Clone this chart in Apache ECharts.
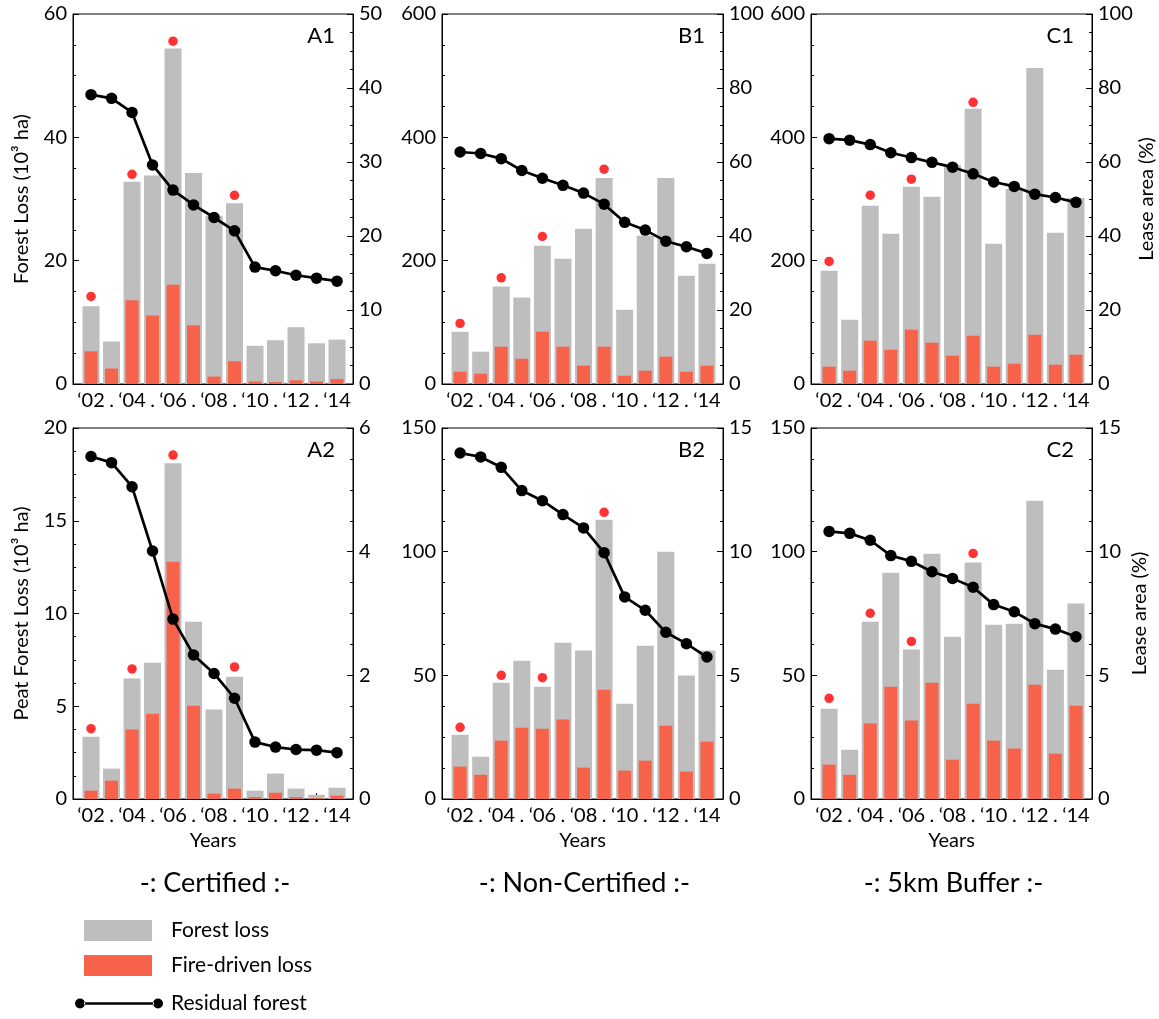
<!DOCTYPE html>
<html><head><meta charset="utf-8">
<script src="https://cdn.jsdelivr.net/npm/echarts@6/dist/echarts.min.js"></script>
<style>html,body{margin:0;padding:0;background:#fff}#c{width:1159px;height:1019px}</style>
</head><body><div id="c"></div>
<script>
// ---- data ----
const years = [2002, 2003, 2004, 2005, 2006, 2007, 2008, 2009, 2010, 2011, 2012, 2013, 2014];
const yearLabels = ["‘02", ".", "‘04", ".", "‘06", ".", "‘08", ".", "‘10", ".", "‘12", ".", "‘14"];
const dotYears = [2002, 2004, 2006, 2009];

const a1Loss = [12.6, 6.9, 32.8, 33.8, 54.4, 34.2, 27.3, 29.3, 6.2, 7.1, 9.2, 6.6, 7.2];
const a1Fire = [5.3, 2.5, 13.6, 11.1, 16.1, 9.5, 1.2, 3.7, 0.4, 0.3, 0.6, 0.4, 0.8];
const a1Resid = [39.1, 38.6, 36.7, 29.6, 26.2, 24.2, 22.5, 20.7, 15.8, 15.3, 14.7, 14.3, 13.9];
const a1Dots = [14.2, 34.0, 55.6, 30.6];

const b1Loss = [84.8, 52.4, 158.2, 140.4, 224.1, 203.0, 251.6, 334.2, 120.4, 240.3, 334.2, 175.5, 194.9];
const b1Fire = [20.0, 16.7, 60.5, 41.0, 84.8, 60.5, 29.7, 60.5, 13.5, 21.6, 44.3, 20.0, 29.7];
const b1Resid = [62.7, 62.3, 60.9, 57.7, 55.6, 53.7, 51.6, 48.6, 43.7, 41.6, 38.6, 37.1, 35.3];
const b1Dots = [98.3, 172.2, 239.2, 348.3];

const c1Loss = [183.6, 104.2, 288.9, 243.5, 319.7, 303.5, 355.3, 446.5, 227.3, 316.4, 512.4, 245.1, 301.8];
const c1Fire = [28.1, 21.6, 70.2, 55.6, 88.0, 67.0, 45.9, 78.3, 28.1, 32.9, 79.9, 31.3, 47.5];
const c1Resid = [66.3, 65.9, 64.7, 62.5, 61.2, 59.9, 58.6, 56.8, 54.6, 53.4, 51.3, 50.4, 49.1];
const c1Dots = [198.7, 306.2, 332.1, 456.8];

const a2Loss = [3.36, 1.64, 6.49, 7.35, 18.1, 9.56, 4.82, 6.59, 0.45, 1.37, 0.56, 0.23, 0.61];
const a2Fire = [0.45, 0.99, 3.74, 4.60, 12.79, 5.03, 0.29, 0.56, 0.1, 0.34, 0.1, 0.05, 0.18];
const a2Resid = [5.54, 5.44, 5.05, 4.01, 2.91, 2.33, 2.03, 1.63, 0.92, 0.84, 0.80, 0.79, 0.75];
const a2Dots = [3.79, 7.01, 18.54, 7.12];

const b2Loss = [26.0, 17.1, 47.0, 55.9, 45.4, 63.2, 60.0, 112.9, 38.5, 62.0, 100.0, 49.9, 60.0];
const b2Fire = [13.1, 9.8, 23.6, 28.8, 28.4, 32.1, 12.7, 44.2, 11.5, 15.5, 29.6, 11.1, 23.2];
const b2Resid = [13.99, 13.83, 13.41, 12.47, 12.06, 11.50, 10.96, 9.96, 8.17, 7.63, 6.74, 6.28, 5.74];
const b2Dots = [28.98, 50.0, 49.06, 115.9];

const c2Loss = [36.5, 19.9, 71.7, 91.5, 60.4, 99.2, 65.6, 95.6, 70.5, 70.9, 120.6, 52.3, 79.0];
const c2Fire = [13.9, 9.8, 30.5, 45.4, 31.7, 47.0, 15.9, 38.5, 23.6, 20.4, 46.2, 18.3, 37.7];
const c2Resid = [10.82, 10.74, 10.46, 9.84, 9.61, 9.19, 8.92, 8.56, 7.86, 7.57, 7.09, 6.87, 6.56];
const c2Dots = [40.7, 75.1, 63.7, 99.3];

const groupTitles = ["-: Certified :-", "-: Non-Certified :-", "-: 5km Buffer :-"];
const panelLabels = ["A1", "B1", "C1", "A2", "B2", "C2"];
const legendNames = ["Forest loss", "Fire-driven loss", "Residual forest"];
const leftAxisNames = ["Forest Loss (10³ ha)", "Peat Forest Loss (10³ ha)"];
const rightAxisName = "Lease area (%)";
const xAxisName = "Years";

// ---- layout / style ----
const FONT = 'Lato';
const GREY = '#bebebe', FIRE = '#f7634a', DOT = '#ff0000';
const colLeft = [73, 442, 811], colWidth = [280, 281, 281];
const rowTop = [14, 428], rowHeight = [370, 371];
const XMIN = 2001.12, XMAX = 2014.78;

const panels = [
  {loss: a1Loss, fire: a1Fire, resid: a1Resid, dots: a1Dots, lmax: 60, lint: 20, rmax: 50, rint: 10},
  {loss: b1Loss, fire: b1Fire, resid: b1Resid, dots: b1Dots, lmax: 600, lint: 200, rmax: 100, rint: 20},
  {loss: c1Loss, fire: c1Fire, resid: c1Resid, dots: c1Dots, lmax: 600, lint: 200, rmax: 100, rint: 20},
  {loss: a2Loss, fire: a2Fire, resid: a2Resid, dots: a2Dots, lmax: 20, lint: 5, rmax: 6, rint: 2},
  {loss: b2Loss, fire: b2Fire, resid: b2Resid, dots: b2Dots, lmax: 150, lint: 50, rmax: 15, rint: 5},
  {loss: c2Loss, fire: c2Fire, resid: c2Resid, dots: c2Dots, lmax: 150, lint: 50, rmax: 15, rint: 5}
];

const grid = [], xAxis = [], yAxis = [], series = [], graphic = [];
const labelStyle = {color: '#000', fontFamily: FONT, fontSize: 20};

panels.forEach((p, i) => {
  const row = Math.floor(i / 3), col = i % 3;
  grid.push({left: colLeft[col], top: rowTop[row], width: colWidth[col], height: rowHeight[row],
    show: true, borderColor: '#000', borderWidth: 1, backgroundColor: 'transparent'});
  const xBase = {
    type: 'value', gridIndex: i, min: XMIN, max: XMAX, splitLine: {show: false},
    axisLine: {show: true, onZero: false, lineStyle: {color: '#000', width: 1}}
  };
  xAxis.push(Object.assign({}, xBase, {
    axisTick: {show: true, inside: true, length: 6, customValues: years, lineStyle: {color: '#000', width: 1}},
    axisLabel: Object.assign({}, labelStyle, {margin: 7, customValues: years,
      formatter: v => { const k = years.indexOf(Math.round(v)); return k >= 0 ? yearLabels[k] : ''; }}),
    name: row === 1 ? xAxisName : '', nameLocation: 'middle', nameGap: 32,
    nameTextStyle: {color: '#000', fontFamily: FONT, fontSize: 20}
  }));
  xAxis.push(Object.assign({}, xBase, {show: false}));
  const yBase = {
    type: 'value', gridIndex: i, min: 0, splitLine: {show: false},
    axisLine: {show: true, lineStyle: {color: '#000', width: 1}},
    axisTick: {show: true, inside: true, length: 6, lineStyle: {color: '#000', width: 1}},
    minorTick: {show: true, splitNumber: 4, length: 3, lineStyle: {color: '#000', width: 1}},
    minorSplitLine: {show: false},
    axisLabel: Object.assign({}, labelStyle, {margin: 6}),
    nameLocation: 'middle', nameRotate: 90,
    nameTextStyle: {color: '#000', fontFamily: FONT, fontSize: 20}
  };
  yAxis.push(Object.assign({}, yBase, {position: 'left', max: p.lmax, interval: p.lint,
    name: col === 0 ? leftAxisNames[row] : '', nameGap: 41}));
  yAxis.push(Object.assign({}, yBase, {position: 'right', max: p.rmax, interval: p.rint,
    name: col === 2 ? rightAxisName : '', nameGap: 38}));

  series.push({type: 'bar', name: legendNames[0], xAxisIndex: 2 * i, yAxisIndex: 2 * i,
    barWidth: 17, itemStyle: {color: GREY}, data: years.map((y, k) => [y, p.loss[k]]), z: 1});
  series.push({type: 'bar', name: legendNames[1], xAxisIndex: 2 * i + 1, yAxisIndex: 2 * i,
    barWidth: 13, itemStyle: {color: FIRE}, data: years.map((y, k) => [y, p.fire[k]]), z: 2});
  series.push({type: 'line', name: legendNames[2], xAxisIndex: 2 * i, yAxisIndex: 2 * i + 1,
    symbol: 'circle', symbolSize: 11.5, showSymbol: true,
    lineStyle: {color: '#000', width: 2.7}, itemStyle: {color: '#000'},
    data: years.map((y, k) => [y, p.resid[k]]), z: 4});
  series.push({type: 'scatter', name: 'dots', xAxisIndex: 2 * i, yAxisIndex: 2 * i,
    symbol: 'circle', symbolSize: 9.5, itemStyle: {color: DOT},
    data: dotYears.map((y, k) => [y, p.dots[k]]), z: 3});

  graphic.push({type: 'text', right: 1159 - (colLeft[col] + colWidth[col] - 18), top: rowTop[row] + 11,
    style: {text: panelLabels[i], fill: '#000', font: '22px ' + FONT}});
});

groupTitles.forEach((t, c) => {
  graphic.push({type: 'text', x: colLeft[c] + colWidth[c] / 2 + 2, y: 883,
    style: {text: t, fill: '#000', font: '27px ' + FONT, textAlign: 'center', textVerticalAlign: 'middle'}});
});

const lineIcon = 'path://M9,4.2L79,4.2L79,6.8L9,6.8Z M0,5.5A5,5,0,1,0,10,5.5A5,5,0,1,0,0,5.5Z M78,5.5A5,5,0,1,0,88,5.5A5,5,0,1,0,78,5.5Z';

const option = {
  animation: false,
  backgroundColor: '#fff',
  grid, xAxis, yAxis, series, graphic,
  legend: [
    {orient: 'vertical', left: 84, top: 920, padding: 0, itemWidth: 68, itemHeight: 21, itemGap: 14,
     data: [{name: legendNames[0], icon: 'rect'}, {name: legendNames[1], icon: 'rect'}],
     textStyle: {color: '#000', fontFamily: FONT, fontSize: 21, padding: [0, 0, 0, 14]}, selectedMode: false},
    {orient: 'vertical', left: 75, top: 993, padding: 0, itemWidth: 88, itemHeight: 11,
     data: [{name: legendNames[2], icon: lineIcon, itemStyle: {color: '#000'}}],
     textStyle: {color: '#000', fontFamily: FONT, fontSize: 21, padding: [0, 0, 0, 3]}, selectedMode: false}
  ]
};

echarts.init(document.getElementById('c'), null, {renderer: 'canvas'}).setOption(option);
</script></body></html>
